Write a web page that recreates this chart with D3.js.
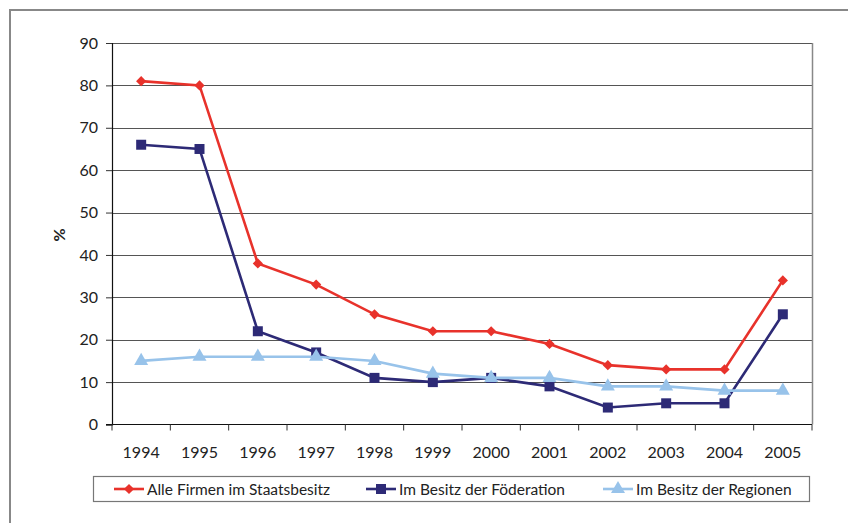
<!DOCTYPE html>
<html>
<head>
<meta charset="utf-8">
<script src="https://cdn.jsdelivr.net/npm/d3@7"></script>
<style>
  body { margin: 0; background: #fff; }
  svg text { font-family: Lato, "Open Sans", sans-serif; fill: #222; }
</style>
</head>
<body>
<div id="chart"></div>
<script>
var width = 848;
var height = 523;

var years = ["1994", "1995", "1996", "1997", "1998", "1999", "2000", "2001", "2002", "2003", "2004", "2005"];
var alleFirmen = [81, 80, 38, 33, 26, 22, 22, 19, 14, 13, 13, 34];
var foederation = [66, 65, 22, 17, 11, 10, 11, 9, 4, 5, 5, 26];
var regionen = [15, 16, 16, 16, 15, 12, 11, 11, 9, 9, 8, 8];
var yTicks = [0, 10, 20, 30, 40, 50, 60, 70, 80, 90];

// diamond = square turned 45 degrees
var series = [
	{ name: "Alle Firmen im Staatsbesitz", values: alleFirmen, color: "#e8322b", symbol: d3.symbolSquare, size: 52, rotate: 45 },
	{ name: "Im Besitz der Föderation", values: foederation, color: "#2d2a76", symbol: d3.symbolSquare, size: 100, rotate: 0 },
	{ name: "Im Besitz der Regionen", values: regionen, color: "#98c3ea", symbol: d3.symbolTriangle, size: 85, rotate: 0 }
];

var plotLeft = 112, plotRight = 812, plotTop = 43, plotBottom = 424.5;

var xScale = d3.scaleBand().domain(years).range([plotLeft, plotRight]);
var yScale = d3.scaleLinear().domain([0, 90]).range([plotBottom, plotTop]);

var svg = d3.select("#chart")
	.append("svg")
	.attr("width", width)
	.attr("height", height);

// outer frame
svg.append("path")
	.attr("d", "M10," + (height + 5) + "V10H" + (width + 5))
	.attr("fill", "none")
	.attr("stroke", "#888")
	.attr("stroke-width", 2);

// gridlines
svg.append("g")
	.selectAll("line")
	.data(yTicks.filter(function (d) { return d > 0; }))
	.enter()
	.append("line")
	.attr("x1", plotLeft)
	.attr("x2", plotRight)
	.attr("y1", function (d) { return Math.round(yScale(d)) + 0.5; })
	.attr("y2", function (d) { return Math.round(yScale(d)) + 0.5; })
	.attr("stroke", "#555")
	.attr("stroke-width", 1);

// right border of plot
svg.append("line")
	.attr("x1", plotRight + 0.5).attr("x2", plotRight + 0.5)
	.attr("y1", plotTop).attr("y2", plotBottom)
	.attr("stroke", "#888")
	.attr("stroke-width", 1.5);

// y axis
var yAxis = d3.axisLeft(yScale).tickValues(yTicks).tickSize(6).tickPadding(8);
var gy = svg.append("g")
	.attr("transform", "translate(" + plotLeft + ",0)")
	.call(yAxis);
gy.select(".domain").attr("stroke", "#111").attr("stroke-width", 1.2);
gy.selectAll(".tick line").attr("stroke", "#333");
gy.selectAll("text")
	.style("font-size", "16px")
	.style("font-family", "Lato, sans-serif")
	.attr("fill", "#222");

// x axis with ticks at category boundaries
svg.append("line")
	.attr("x1", plotLeft - 6).attr("x2", plotRight)
	.attr("y1", plotBottom).attr("y2", plotBottom)
	.attr("stroke", "#111")
	.attr("stroke-width", 1.2);
var boundaries = years.map(function (d) { return xScale(d); }).concat([plotRight]);
svg.append("g")
	.selectAll("line")
	.data(boundaries)
	.enter()
	.append("line")
	.attr("x1", function (d) { return d; })
	.attr("x2", function (d) { return d; })
	.attr("y1", plotBottom)
	.attr("y2", plotBottom + 6)
	.attr("stroke", "#333");
svg.append("g")
	.selectAll("text")
	.data(years)
	.enter()
	.append("text")
	.attr("x", function (d) { return xScale(d) + xScale.bandwidth() / 2; })
	.attr("y", 458)
	.attr("text-anchor", "middle")
	.style("font-size", "16px")
	.text(function (d) { return d; });

// y label
svg.append("text")
	.attr("transform", "translate(65,235) rotate(-90)")
	.attr("text-anchor", "middle")
	.style("font-size", "16px")
	.style("font-weight", "bold")
	.text("%");

var line = d3.line()
	.x(function (d, i) { return xScale(years[i]) + xScale.bandwidth() / 2; })
	.y(function (d) { return yScale(d); });

series.forEach(function (s) {
	var g = svg.append("g");
	g.append("path")
		.datum(s.values)
		.attr("d", line)
		.attr("fill", "none")
		.attr("stroke", s.color)
		.attr("stroke-width", 2.6);
	g.selectAll("path.pt")
		.data(s.values)
		.enter()
		.append("path")
		.attr("class", "pt")
		.attr("d", d3.symbol().type(s.symbol).size(s.size))
		.attr("transform", function (d, i) {
			return "translate(" + (xScale(years[i]) + xScale.bandwidth() / 2) + "," + yScale(d) + ") rotate(" + s.rotate + ")";
		})
		.attr("fill", s.color);
});

// legend
var legend = svg.append("g");
legend.append("rect")
	.attr("x", 93.5).attr("y", 476.5)
	.attr("width", 716).attr("height", 25)
	.attr("fill", "#fff")
	.attr("stroke", "#777")
	.attr("stroke-width", 1.2);
var itemX = [114, 366, 603];
series.forEach(function (s, i) {
	var g = legend.append("g").attr("transform", "translate(" + itemX[i] + ",489)");
	g.append("line")
		.attr("x1", 0).attr("x2", 30)
		.attr("stroke", s.color)
		.attr("stroke-width", 2.6);
	g.append("path")
		.attr("d", d3.symbol().type(s.symbol).size(s.size))
		.attr("transform", "translate(15,0) rotate(" + s.rotate + ")")
		.attr("fill", s.color);
	g.append("text")
		.attr("x", 33)
		.attr("y", 5.5)
		.style("font-size", "15.5px")
		.text(s.name);
});
</script>
</body>
</html>
